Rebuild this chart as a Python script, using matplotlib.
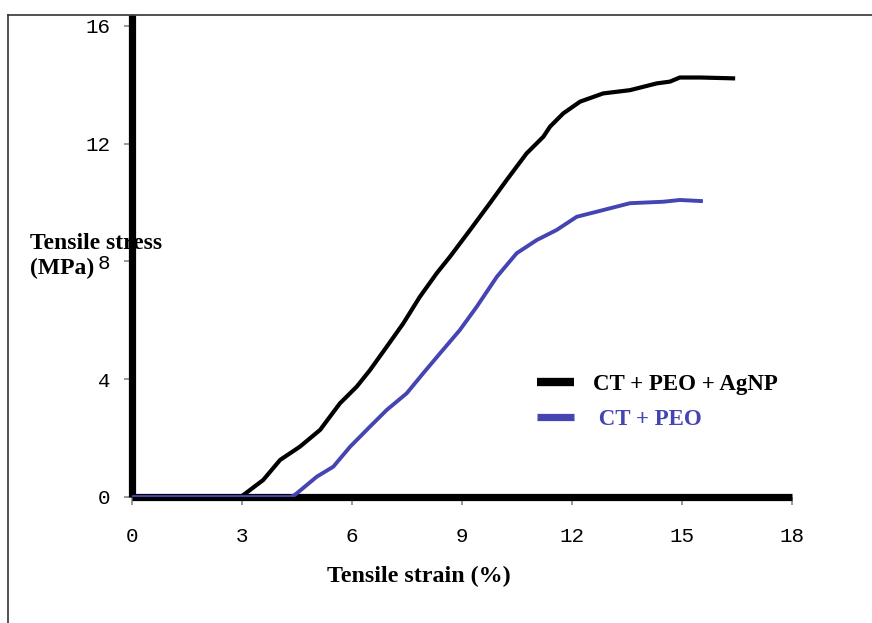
import matplotlib
matplotlib.use("Agg")
import matplotlib.pyplot as plt
from matplotlib.lines import Line2D

# ---- data ----
strain_agnp = [0, 1.0, 2.0, 2.95, 3.04, 3.58, 4.04, 4.58, 5.13, 5.67, 6.13, 6.49, 6.95,
               7.4, 7.85, 8.31, 8.67, 9.22, 9.76, 10.22, 10.76, 11.22, 11.4, 11.76,
               12.22, 12.85, 13.58, 14.31, 14.67, 14.94, 15.5, 16.45]
stress_agnp = [0, 0, 0, 0, 0.07, 0.58, 1.26, 1.71, 2.28, 3.18, 3.75, 4.31, 5.11,
               5.9, 6.8, 7.6, 8.16, 9.07, 9.98, 10.77, 11.67, 12.24, 12.58, 13.03,
               13.43, 13.71, 13.82, 14.05, 14.11, 14.25, 14.25, 14.22]

strain_peo = [0, 1.0, 2.0, 3.0, 4.0, 4.35, 4.49, 5.04, 5.49, 5.95, 6.49, 6.95, 7.49,
              7.94, 8.4, 8.94, 9.4, 9.95, 10.49, 11.04, 11.58, 12.13, 12.67, 13.58,
              14.49, 14.94, 15.57]
stress_peo = [0, 0, 0, 0, 0, 0, 0.12, 0.69, 1.03, 1.71, 2.39, 2.96, 3.52,
              4.2, 4.88, 5.67, 6.46, 7.48, 8.28, 8.73, 9.07, 9.52, 9.69, 9.98,
              10.03, 10.09, 10.05]

series_labels = ["CT + PEO + AgNP", " CT + PEO"]
x_ticks = [0, 3, 6, 9, 12, 15, 18]
y_ticks = [0, 4, 8, 12, 16]

BLUE = "#4444b2"
W, H = 872, 623

fig = plt.figure(figsize=(W / 100, H / 100), dpi=100)
fig.patch.set_facecolor("white")

left, right = 132 / W, 792 / W
bottom = 1 - 497 / H
top = 1 - 15 / H
ax = fig.add_axes([left, bottom, right - left, top - bottom])
ax.set_xlim(0, 18)
ax.set_ylim(0, 16 + 11 / 29.44)

for s in ["top", "right"]:
    ax.spines[s].set_visible(False)
for s in ["left", "bottom"]:
    ax.spines[s].set_linewidth(5.2)
    ax.spines[s].set_color("black")
    ax.spines[s].set_capstyle("butt")

ax.plot(strain_agnp, stress_agnp, color="black", lw=3.0, zorder=3,
        solid_capstyle="butt", solid_joinstyle="round")
ax.plot(strain_peo, stress_peo, color=BLUE, lw=2.8, zorder=3,
        solid_capstyle="butt", solid_joinstyle="round")

mono = "Liberation Mono"
ax.set_xticks(x_ticks)
ax.set_xticklabels([str(v) for v in x_ticks], family=mono, fontsize=15)
ax.set_yticks(y_ticks)
ax.set_yticklabels([str(v) for v in y_ticks], family=mono, fontsize=15)
ax.tick_params(axis="both", direction="out", length=5.5, width=1.2, color="#888888")
ax.tick_params(axis="x", pad=16)
ax.tick_params(axis="y", pad=10)

serif = "Liberation Serif"
ax.text(419 / W, 1 - 576 / H, "Tensile strain (%)", transform=fig.transFigure,
        ha="center", va="center", family=serif, fontweight="bold", fontsize=17.3,
        clip_on=False, zorder=1)
ax.text(30 / W, 1 - 256 / H, "Tensile stress\n(MPa)", transform=fig.transFigure,
        ha="left", va="center", family=serif, fontweight="bold", fontsize=17,
        linespacing=1.25, clip_on=False, zorder=1)

handles = [Line2D([], [], color="black", lw=6.0, solid_capstyle="butt"),
           Line2D([], [], color=BLUE, lw=5.2, solid_capstyle="butt")]
leg = ax.legend(handles, series_labels, loc="upper left",
                bbox_to_anchor=(537 / W, 1 - 374 / H), bbox_transform=fig.transFigure,
                frameon=False, borderpad=0, borderaxespad=0, handlelength=1.6,
                handletextpad=0.85, labelspacing=0.6, labelcolor=["black", BLUE],
                prop={"family": serif, "weight": "bold", "size": 16.5})

# outer frame lines
fig.add_artist(Line2D([8 / W, 8 / W], [0, 1 - 15 / H], transform=fig.transFigure,
                      color="#333333", lw=1.2))
fig.add_artist(Line2D([8 / W, 1], [1 - 15 / H, 1 - 15 / H], transform=fig.transFigure,
                      color="#333333", lw=1.2))

fig.savefig("out.png", dpi=100, facecolor="white")
